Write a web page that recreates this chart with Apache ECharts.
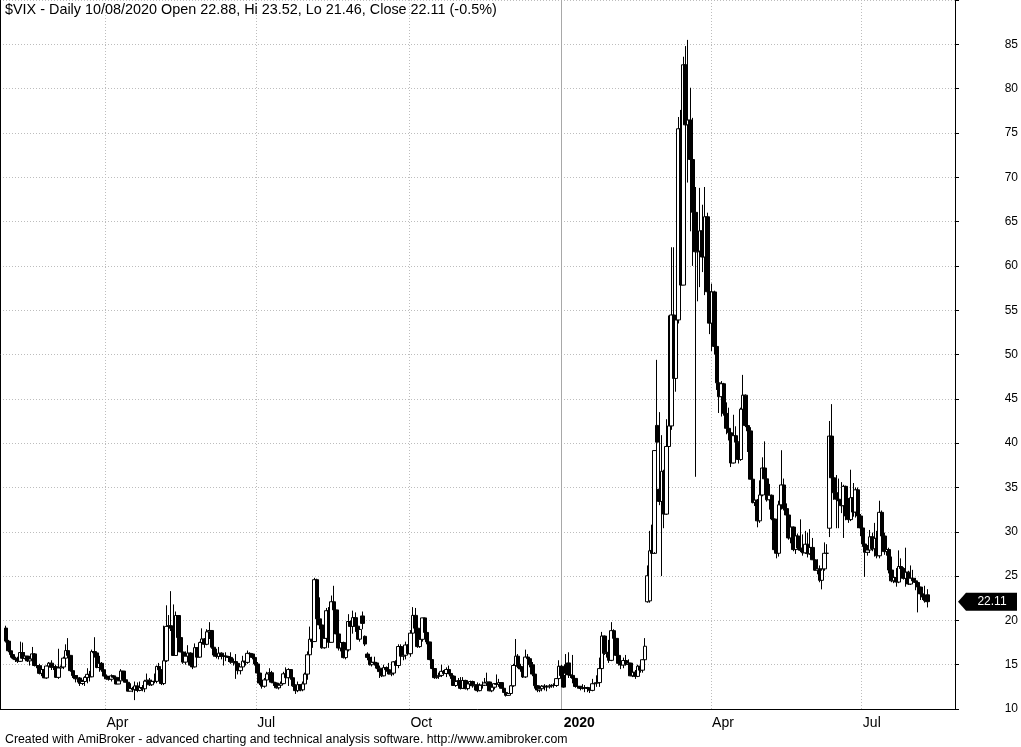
<!DOCTYPE html>
<html><head><meta charset="utf-8">
<script src="https://cdn.jsdelivr.net/npm/echarts@6/dist/echarts.min.js"></script>
<style>html,body{margin:0;padding:0;background:#fff}#c{width:1021px;height:747px}</style>
</head><body><div id="c"></div>
<script>
// rows: [day, open, high, low, close]
const m2019_01 = [[30,19.13,19.40,17.50,17.66],[31,17.66,17.80,16.40,16.57]];
const m2019_02 = [[1,16.57,17.00,15.80,16.14],[4,16.14,16.50,15.60,15.73],[5,15.73,15.90,15.30,15.57],[6,15.57,15.90,15.20,15.38],[7,15.38,17.60,15.30,16.37],[8,16.37,17.50,15.70,15.72],[11,15.72,16.40,15.60,15.97],[12,15.97,16.00,15.30,15.43],[13,15.43,15.70,14.90,15.65],[14,15.65,17.00,15.30,16.22],[15,16.22,16.30,14.80,14.91],[19,14.91,15.60,14.60,14.88],[20,14.88,15.10,13.90,14.02],[21,14.02,14.90,13.70,14.46],[22,14.46,14.50,13.50,13.51],[25,13.51,14.90,13.40,14.85],[26,14.85,15.30,14.30,15.17],[27,15.17,15.50,14.40,14.70],[28,14.70,15.10,14.40,14.78]];
const m2019_03 = [[1,14.78,15.00,13.50,13.57],[4,13.57,16.80,13.40,14.63],[5,14.63,14.90,14.20,14.74],[6,14.74,15.90,14.50,15.74],[7,15.74,17.30,15.60,16.59],[8,16.59,18.00,15.90,16.05],[11,16.05,16.10,14.20,14.33],[12,14.33,14.40,13.50,13.77],[13,13.77,13.80,13.00,13.41],[14,13.41,13.80,13.00,13.50],[15,13.50,13.60,12.60,12.88],[18,12.88,13.30,12.70,13.10],[19,13.10,13.70,12.60,13.56],[20,13.56,14.60,12.90,13.91],[21,13.91,14.30,13.10,13.63],[22,13.63,16.70,13.60,16.48],[25,16.48,18.10,15.80,16.33],[26,16.33,16.40,14.60,14.68],[27,14.68,16.00,14.20,15.15],[28,15.15,15.30,14.20,14.43],[29,14.43,14.50,13.70,13.71]];
const m2019_04 = [[1,13.71,13.90,13.30,13.40],[2,13.40,13.70,13.20,13.36],[3,13.36,13.90,13.10,13.74],[4,13.74,13.80,13.40,13.58],[5,13.58,13.60,12.80,12.82],[8,12.82,13.60,12.80,13.18],[9,13.18,14.50,13.10,14.28],[10,14.28,14.30,13.30,13.30],[11,13.30,13.50,13.00,13.02],[12,13.02,13.10,12.00,12.01],[15,12.01,12.90,12.00,12.32],[16,12.32,12.50,11.90,12.18],[17,12.18,13.10,11.00,12.60],[18,12.60,13.00,11.90,12.09],[22,12.09,13.10,12.00,12.42],[23,12.42,12.70,12.00,12.28],[24,12.28,13.30,11.90,13.14],[25,13.14,14.00,12.90,13.25],[26,13.25,13.50,12.60,12.73],[29,12.73,13.30,12.60,13.11],[30,13.11,14.00,12.90,13.12]];
const m2019_05 = [[1,13.12,14.90,12.90,14.80],[2,14.80,15.20,14.10,14.42],[3,14.42,14.50,12.70,12.87],[6,12.87,19.40,12.70,15.44],[7,15.44,21.70,15.30,19.32],[8,19.32,20.60,18.50,19.40],[9,19.40,23.30,18.80,19.10],[10,19.10,21.80,16.00,16.04],[13,16.04,21.00,16.00,20.55],[14,20.55,20.60,17.90,18.06],[15,18.06,19.30,16.40,16.44],[16,16.44,16.80,15.10,15.29],[17,15.29,16.50,15.00,15.96],[20,15.96,17.20,15.90,16.31],[21,16.31,16.40,14.90,14.95],[22,14.95,15.40,14.50,14.75],[23,14.75,17.40,14.70,16.92],[24,16.92,17.00,15.80,15.85],[28,15.85,17.60,15.80,17.50],[29,17.50,19.10,17.20,17.90],[30,17.90,18.00,16.90,17.30],[31,17.30,19.00,17.20,18.71]];
const m2019_06 = [[3,18.71,19.80,17.90,18.86],[4,18.86,18.90,16.80,16.97],[5,16.97,17.20,15.90,16.09],[6,16.09,16.80,15.70,15.93],[7,15.93,17.00,15.60,16.30],[10,16.30,16.40,15.60,15.94],[11,15.94,16.20,14.90,15.99],[12,15.99,16.40,15.40,15.91],[13,15.91,16.00,15.30,15.82],[14,15.82,16.40,15.10,15.28],[17,15.28,15.70,14.90,15.35],[18,15.35,16.20,13.40,15.15],[19,15.15,15.30,13.90,14.33],[20,14.33,14.70,13.90,14.75],[21,14.75,16.00,14.50,15.40],[24,15.40,15.60,14.90,15.26],[25,15.26,16.60,15.10,16.28],[26,16.28,16.40,15.80,16.21],[27,16.21,16.30,15.60,15.82],[28,15.82,16.00,14.90,15.08]];
const m2019_07 = [[1,15.08,15.30,13.60,14.06],[2,14.06,14.20,12.70,12.93],[3,12.93,13.00,12.30,12.57],[5,12.57,13.50,12.40,13.28],[8,13.28,14.20,13.20,13.96],[9,13.96,14.60,13.60,14.09],[10,14.09,14.30,12.90,13.03],[11,13.03,13.30,12.60,12.93],[12,12.93,13.00,12.30,12.39],[15,12.39,12.80,12.20,12.68],[16,12.68,13.10,12.40,12.86],[17,12.86,14.20,12.80,13.97],[18,13.97,14.70,13.50,13.53],[19,13.53,14.60,12.60,14.45],[22,14.45,14.50,13.30,13.53],[23,13.53,13.60,12.50,12.61],[24,12.61,12.80,11.70,12.07],[25,12.07,13.10,11.90,12.74],[26,12.74,12.80,12.00,12.16],[29,12.16,13.10,12.00,12.83],[30,12.83,14.10,12.80,13.94],[31,13.94,16.50,13.30,16.12]];
const m2019_08 = [[1,16.12,19.30,15.90,17.87],[2,17.87,19.10,16.90,17.61],[5,17.61,24.80,17.60,24.59],[6,24.59,24.70,19.70,20.17],[7,20.17,22.60,19.00,19.49],[8,19.49,19.60,16.80,16.91],[9,16.91,19.40,16.80,17.97],[12,17.97,21.40,17.90,21.09],[13,21.09,21.50,16.90,17.52],[14,17.52,22.80,17.50,22.10],[15,22.10,23.90,20.30,21.18],[16,21.18,21.20,18.40,18.47],[19,18.47,18.50,16.60,16.88],[20,16.88,17.70,16.50,17.50],[21,17.50,17.60,15.70,15.80],[22,15.80,17.00,15.60,16.68],[23,16.68,20.70,16.50,19.87],[26,19.87,20.00,18.90,19.32],[27,19.32,21.10,18.50,20.31],[28,20.31,20.90,18.70,19.35],[29,19.35,19.40,17.80,17.88],[30,17.88,19.20,17.60,18.98]];
const m2019_09 = [[3,20.50,21.00,19.00,19.66],[4,18.20,18.30,17.10,17.33],[5,16.20,16.40,15.50,15.82],[6,15.82,15.90,14.90,15.00],[9,15.00,15.90,14.80,15.27],[10,15.27,15.90,14.90,15.20],[11,15.20,15.30,14.50,14.61],[12,14.61,14.90,13.50,14.22],[13,14.22,14.30,13.60,13.74],[16,13.74,15.00,13.70,14.67],[17,14.67,14.80,14.20,14.44],[18,14.44,15.20,13.90,13.95],[19,13.95,14.30,13.70,14.05],[20,14.05,15.40,13.80,15.32],[23,15.32,15.50,14.60,14.91],[24,14.91,17.30,14.60,17.05],[25,17.05,17.30,15.80,15.96],[26,15.96,16.50,15.50,16.07],[27,16.07,17.60,15.60,17.22],[30,17.22,17.30,16.10,16.24]];
const m2019_10 = [[1,16.24,18.90,15.90,18.56],[2,18.56,21.50,18.40,20.56],[3,20.56,21.40,18.80,19.12],[4,19.12,19.60,16.90,17.04],[7,17.04,18.40,16.90,17.86],[8,17.86,20.30,17.60,20.28],[9,20.28,20.30,18.20,18.64],[10,18.64,19.80,17.30,17.57],[11,17.57,17.60,15.50,15.58],[14,15.58,15.60,14.50,14.57],[15,14.57,14.60,13.40,13.54],[16,13.54,14.00,13.40,13.68],[17,13.68,14.10,13.40,13.79],[18,13.79,15.00,13.60,14.25],[21,14.25,14.40,13.90,14.00],[22,14.00,14.70,13.60,14.46],[23,14.46,14.90,13.90,14.01],[24,14.01,14.10,13.40,13.71],[25,13.71,13.80,12.60,12.65],[28,12.65,13.20,12.50,13.11],[29,13.11,13.50,12.90,13.20],[30,13.20,13.60,12.20,12.33],[31,12.33,13.60,12.30,13.22]];
const m2019_11 = [[1,13.22,13.30,12.20,12.30],[4,12.30,12.90,12.10,12.83],[5,12.83,13.20,12.60,13.10],[6,13.10,13.20,12.40,12.62],[7,12.62,13.00,12.10,12.73],[8,12.73,13.00,11.90,12.07],[11,12.07,12.90,12.00,12.69],[12,12.69,13.10,12.30,12.68],[13,12.68,13.50,12.60,12.94],[14,12.94,14.10,12.60,13.05],[15,13.05,13.10,12.00,12.05],[18,12.05,12.60,11.90,12.46],[19,12.46,12.90,12.20,12.86],[20,12.86,13.90,12.60,12.78],[21,12.78,13.40,12.50,12.98],[22,12.98,13.00,12.30,12.34],[25,12.34,12.40,11.80,11.87],[26,11.87,12.00,11.40,11.54],[27,11.54,11.80,11.50,11.75],[29,11.75,12.70,11.70,12.62]];
const m2019_12 = [[2,12.62,15.10,12.50,14.91],[3,14.91,17.90,14.70,15.96],[4,15.96,16.20,14.60,14.80],[5,14.80,15.10,14.20,14.52],[6,14.52,14.60,13.50,13.62],[9,13.62,16.70,13.50,15.86],[10,15.86,16.20,14.80,15.68],[11,15.68,15.70,14.70,14.99],[12,14.99,15.30,13.70,13.94],[13,13.94,14.10,12.30,12.63],[16,12.63,12.70,11.90,12.14],[17,12.14,12.50,11.90,12.29],[18,12.29,12.70,12.00,12.58],[19,12.58,12.80,12.10,12.50],[20,12.50,12.70,12.00,12.51],[23,12.51,12.80,12.30,12.61],[24,12.61,12.80,12.40,12.67],[26,12.67,12.90,12.40,12.65],[27,12.65,13.50,12.50,13.43],[30,13.43,15.50,13.40,14.82],[31,14.82,15.00,13.60,13.78]];
const m2020_01 = [[2,13.78,13.80,12.40,12.47],[3,15.00,16.20,13.10,14.02],[6,15.20,16.40,13.50,13.85],[7,13.85,14.50,13.50,13.79],[8,13.79,16.10,12.90,13.45],[9,13.45,13.50,12.40,12.54],[10,12.54,12.80,12.30,12.56],[13,12.56,12.60,12.10,12.32],[14,12.32,12.80,12.20,12.39],[15,12.39,12.70,11.90,12.42],[16,12.42,12.50,11.90,12.32],[17,12.32,12.40,11.80,12.10],[21,12.10,13.40,12.00,12.85],[22,12.85,13.00,12.30,12.91],[23,12.91,13.80,12.50,12.98],[24,12.98,15.80,12.50,14.56],[27,14.56,18.70,14.50,18.23],[28,18.23,18.30,16.10,16.28],[29,16.28,17.00,15.80,16.39],[30,16.39,17.80,15.20,15.49],[31,15.49,19.80,15.40,18.84]];
const m2020_02 = [[3,18.84,19.00,16.90,17.97],[4,17.97,18.00,15.90,16.05],[5,16.05,16.20,14.90,15.15],[6,15.15,15.30,14.50,14.96],[7,14.96,15.80,14.60,15.47],[10,15.47,16.10,14.90,15.04],[11,15.04,15.60,14.40,15.18],[12,15.18,15.20,13.70,13.74],[13,13.74,14.70,13.60,14.15],[14,14.15,14.40,13.40,13.68],[18,13.68,15.00,13.60,14.83],[19,14.83,14.90,14.10,14.38],[20,14.38,15.60,14.10,15.56],[21,15.56,18.00,15.50,17.08],[24,22.10,26.20,22.00,25.03],[25,22.20,30.10,22.00,27.85],[26,27.90,30.80,26.50,27.56],[27,27.56,39.20,27.70,39.16],[28,42.00,49.40,38.60,40.11]];
const m2020_03 = [[2,34.80,43.50,33.00,33.42],[3,33.42,40.90,25.00,36.82],[4,36.82,37.00,30.40,31.99],[5,31.99,42.70,31.90,39.62],[6,39.62,54.40,39.50,41.94],[9,41.94,62.10,41.50,54.46],[10,54.46,62.10,46.00,47.30],[11,47.30,54.10,45.80,53.90],[12,53.90,76.80,53.50,75.47],[13,75.47,77.60,55.30,57.83],[16,57.83,83.60,57.80,82.69],[17,82.69,84.80,73.40,75.91],[18,75.91,85.50,69.40,76.45],[19,76.45,80.10,63.90,72.00],[20,72.00,76.70,60.00,66.04],[23,66.04,68.90,36.20,61.59],[24,61.59,65.00,56.00,61.67],[25,61.67,68.80,57.60,63.95],[26,63.95,66.90,59.30,61.00],[27,61.00,68.90,56.70,65.54],[30,65.54,66.00,56.30,57.08],[31,57.08,61.00,52.30,53.54]];
const m2020_04 = [[1,53.54,58.00,50.40,57.06],[2,57.06,57.20,50.00,50.91],[3,50.91,51.00,46.00,46.80],[6,46.80,47.50,43.40,45.24],[7,45.24,47.00,43.00,46.70],[8,46.70,46.80,43.10,43.35],[9,43.35,44.60,41.00,41.67],[13,41.67,44.00,40.30,41.17],[14,41.17,41.40,37.30,37.76],[15,37.76,43.20,37.70,40.84],[16,40.84,41.90,39.20,40.11],[17,40.11,40.20,37.70,38.15],[20,38.15,44.00,38.00,43.83],[21,43.83,47.70,43.00,45.41],[22,45.41,45.50,41.80,41.98],[23,41.98,42.20,39.00,41.38],[24,41.38,41.80,35.90,35.93],[27,35.93,36.30,33.20,33.29],[28,33.29,35.30,32.90,33.57],[29,33.57,33.70,30.50,31.23],[30,31.23,35.80,31.00,34.15]];
const m2020_05 = [[1,34.15,38.40,34.00,37.19],[4,37.19,40.20,35.80,35.97],[5,35.97,36.00,33.40,33.61],[6,33.61,35.40,32.50,34.12],[7,34.12,34.20,31.30,31.44],[8,31.44,31.50,27.90,27.98],[11,27.98,29.00,27.00,27.57],[12,27.57,33.50,27.20,33.04],[13,33.04,39.20,32.50,35.28],[14,35.28,36.00,32.40,32.61],[15,32.61,33.20,31.60,31.89],[18,31.89,31.90,29.10,29.30],[19,29.30,31.20,28.70,30.53],[20,30.53,30.60,27.80,27.99],[21,27.99,30.00,27.50,29.53],[22,29.53,29.80,28.00,28.16],[26,28.16,31.40,27.70,27.91],[27,27.91,29.70,27.30,27.62],[28,27.62,30.10,27.50,28.59],[29,28.59,29.90,27.10,27.51]];
const m2020_06 = [[1,27.51,30.30,27.40,28.23],[2,28.23,29.30,26.80,26.84],[3,26.84,27.40,25.60,25.66],[4,25.66,26.90,25.20,25.81],[5,25.81,26.20,24.30,24.52],[8,24.52,25.60,23.50,25.81],[9,25.81,28.80,25.60,27.57],[10,27.57,28.60,26.60,27.57],[11,30.40,42.50,29.40,40.79],[12,40.79,44.40,35.00,36.09],[15,36.09,38.20,33.60,34.40],[16,34.40,36.40,30.40,33.67],[17,33.67,36.00,30.40,33.47],[18,33.47,35.60,32.10,32.94],[19,32.94,35.30,29.30,35.12],[22,35.12,35.20,31.30,31.77],[23,31.77,33.80,31.00,31.37],[24,31.37,37.00,31.20,33.84],[25,33.84,35.50,31.70,32.22],[26,32.22,35.00,31.60,34.73],[29,34.73,35.00,30.40,31.78],[30,31.78,32.00,29.50,30.43]];
const m2020_07 = [[1,30.43,30.80,28.30,28.62],[2,28.62,29.00,24.90,27.68],[6,27.68,28.50,27.30,27.94],[7,27.94,30.20,27.60,29.43],[8,29.43,29.90,27.80,28.08],[9,28.08,31.00,27.20,29.26],[10,29.26,30.10,27.00,27.29],[13,27.29,33.50,27.00,32.19],[14,32.19,32.40,29.00,29.52],[15,29.52,29.90,27.40,27.76],[16,27.76,28.70,27.30,28.00],[17,28.00,28.20,25.30,25.68],[20,25.68,27.20,24.30,24.46],[21,24.46,25.20,24.20,24.84],[22,24.84,25.90,23.80,24.32],[23,24.32,27.90,24.20,26.08],[24,26.08,27.00,25.30,25.84],[27,25.84,26.00,24.60,24.74],[28,24.74,28.20,23.80,25.44],[29,25.44,25.60,24.00,24.10],[30,24.10,26.20,24.00,24.76],[31,24.76,25.70,24.20,24.46]];
const m2020_08 = [[3,24.46,24.80,23.40,24.28],[4,24.28,24.40,20.90,23.76],[5,23.76,23.80,22.30,22.99],[6,22.99,23.40,22.30,22.65],[7,22.65,23.90,22.00,22.21],[10,22.88,23.52,21.46,22.11]];

const months = [['2019-01',m2019_01],['2019-02',m2019_02],['2019-03',m2019_03],['2019-04',m2019_04],['2019-05',m2019_05],['2019-06',m2019_06],['2019-07',m2019_07],['2019-08',m2019_08],['2019-09',m2019_09],['2019-10',m2019_10],['2019-11',m2019_11],['2019-12',m2019_12],['2020-01',m2020_01],['2020-02',m2020_02],['2020-03',m2020_03],['2020-04',m2020_04],['2020-05',m2020_05],['2020-06',m2020_06],['2020-07',m2020_07],['2020-08',m2020_08]];
const monthLabels = {'2019-04':'Apr','2019-07':'Jul','2019-10':'Oct','2020-01':'2020','2020-04':'Apr','2020-07':'Jul'};
const yearStart = '2020-01';
const yTicks = [10,15,20,25,30,35,40,45,50,55,60,65,70,75,80,85];
const titleText = '$VIX - Daily 10/08/2020 Open 22.88, Hi 23.52, Lo 21.46, Close 22.11 (-0.5%)';
const footerText = 'Created with AmiBroker - advanced charting and technical analysis software. http://www.amibroker.com';
const lastClose = 22.11;
const leadBlank = 2, tailBlank = 11;

const cats = [], candles = [], labelAt = {};
for (let i = 0; i < leadBlank; i++) { cats.push('b' + i); candles.push('-'); }
let yearIdx = -1;
months.forEach(([ym, rows]) => {
  rows.forEach((r, k) => {
    const c = ym + '-' + String(r[0]).padStart(2, '0');
    if (k === 0 && monthLabels[ym]) labelAt[cats.length] = monthLabels[ym];
    if (k === 0 && ym === yearStart) yearIdx = cats.length;
    cats.push(c);
    candles.push([r[1], r[4], r[3], r[2]]);
  });
});
for (let i = 0; i < tailBlank; i++) { cats.push('e' + i); candles.push('-'); }

const FONT = '"Liberation Sans", Arial, sans-serif';
const chart = echarts.init(document.getElementById('c'), null, {renderer: 'canvas'});
chart.setOption({
  animation: false,
  backgroundColor: '#ffffff',
  grid: {left: 0, right: 66, top: 0, bottom: 38, containLabel: false},
  title: {text: titleText, left: 5, top: 3, padding: 0, textStyle: {fontFamily: FONT, fontSize: 14.4, fontWeight: 'normal', color: '#000'}},
  xAxis: {
    type: 'category', data: cats, boundaryGap: true,
    axisLine: {show: true, lineStyle: {color: '#000', width: 1}},
    axisTick: {show: false},
    axisLabel: {
      interval: (idx) => labelAt[idx] !== undefined,
      formatter: (v, idx) => { const t = labelAt[idx]; if (t === undefined) return ''; return t === '2020' ? '{b|2020}' : t; },
      align: 'left', margin: 7, color: '#000', fontFamily: FONT, fontSize: 14,
      rich: {b: {fontWeight: 'bold', fontFamily: FONT, fontSize: 14, color: '#000'}}
    },
    splitLine: {show: true, interval: (idx) => labelAt[idx] !== undefined && labelAt[idx] !== '2020', lineStyle: {color: '#bdbdbd', type: [1, 2], width: 1}}
  },
  yAxis: {
    type: 'value', position: 'right', min: 10, max: 90, interval: 5,
    axisLine: {show: true, lineStyle: {color: '#000', width: 1}},
    axisTick: {show: true, inside: false, length: 4, lineStyle: {color: '#000'}},
    axisLabel: {formatter: (v) => yTicks.indexOf(v) >= 0 ? String(v) : '', align: 'right', margin: 63, color: '#000', fontFamily: FONT, fontSize: 12},
    splitLine: {show: true, lineStyle: {color: '#bdbdbd', type: [1, 2], width: 1}}
  },
  series: [{
    type: 'candlestick', data: candles, barWidth: 4,
    itemStyle: {color: '#ffffff', color0: '#000000', borderColor: '#000000', borderColor0: '#000000', borderWidth: 1}
  }]
});

// year separator, last-close marker, frame and footer
const xa = chart.convertToPixel({xAxisIndex: 0}, cats[yearIdx]);
const xb = chart.convertToPixel({xAxisIndex: 0}, cats[yearIdx - 1]);
const sepX = Math.round((xa + xb) / 2) - 0.5;
const yPix = chart.convertToPixel({yAxisIndex: 0}, lastClose);
const axisX = 1021 - 66;
chart.setOption({
  graphic: [
    {type: 'line', z: 1, shape: {x1: sepX, y1: 0, x2: sepX, y2: 709}, style: {stroke: '#a8a8a8', lineWidth: 1}},
    {type: 'line', shape: {x1: 0.5, y1: 0, x2: 0.5, y2: 709}, style: {stroke: '#000', lineWidth: 1}},
    {type: 'polygon', shape: {points: [[axisX + 3, yPix], [axisX + 11, yPix - 9], [axisX + 62, yPix - 9], [axisX + 62, yPix + 9], [axisX + 11, yPix + 9]]}, style: {fill: '#000'}},
    {type: 'text', x: axisX + 37, y: yPix, style: {text: lastClose.toFixed(2), fill: '#fff', font: '12px ' + FONT, align: 'center', verticalAlign: 'middle'}},
    {type: 'text', x: 5, y: 740, style: {text: footerText, fill: '#000', font: '12.3px ' + FONT, verticalAlign: 'middle'}}
  ]
});
</script></body></html>
